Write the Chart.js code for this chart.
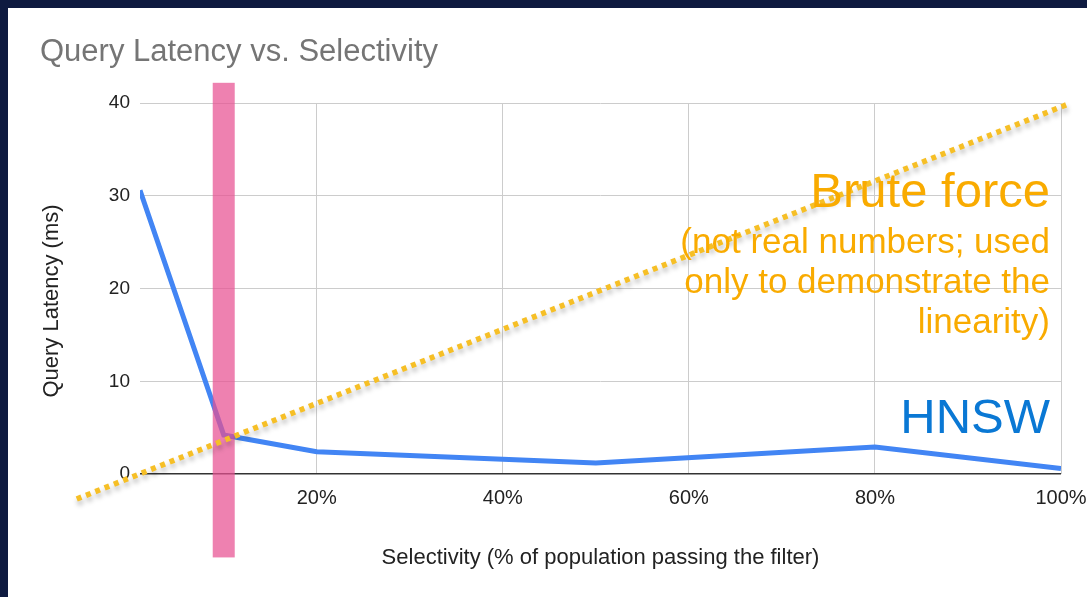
<!DOCTYPE html>
<html>
<head>
<meta charset="utf-8">
<script src="https://cdn.jsdelivr.net/npm/chart.js@4.4.1/dist/chart.umd.min.js"></script>
<style>
  html, body { margin: 0; padding: 0; background: #0e1a40; overflow: hidden; }
  #wrap { position: absolute; left: 8px; top: 8px; width: 1079px; height: 589px; background: #fff; }
</style>
</head>
<body>
<div id="wrap"><canvas id="latencyChart"></canvas></div>
<script>
// Data
const selectivity = [1, 10, 20, 50, 80, 100];          // % of population passing the filter
const hnswLatency = [30.6, 4.2, 2.4, 1.2, 2.9, 0.6];    // ms
const bruteX = [-5.8, 101];                              // dotted trend line ends
const bruteY = [-2.7, 40];
const xTickValues = [20, 40, 60, 80, 100];
const yTickValues = [0, 10, 20, 30, 40];
const highlightX = 10;                                   // pink marker
const highlightY = [-9, 42.2];

const FONT = '"Liberation Sans", Arial, sans-serif';

// pink marker drawn between the two lines, shadow under the dotted line
const overlayPlugin = {
    id: 'overlay',
    beforeDatasetDraw(chart, args) {
        if (args.index !== 0) return;
        const ctx = chart.ctx;
        const xs = chart.scales.x, ys = chart.scales.y;
        const px = xs.getPixelForValue(highlightX);
        const top = ys.getPixelForValue(highlightY[1]);
        const bot = ys.getPixelForValue(highlightY[0]);
        ctx.save();
        ctx.fillStyle = 'rgba(232, 80, 145, 0.72)';
        ctx.fillRect(px - 11, top, 22, bot - top);
        ctx.restore();
        ctx.save();
        ctx.shadowColor = 'rgba(0, 0, 0, 0.28)';
        ctx.shadowBlur = 5;
        ctx.shadowOffsetY = 4;
        ctx.shadowOffsetX = 1;
    },
    afterDatasetDraw(chart, args) {
        if (args.index !== 0) return;
        chart.ctx.restore();
    },
    afterDraw(chart) {
        const ctx = chart.ctx;
        const right = chart.chartArea.right - 11;
        ctx.save();
        // y axis title (sits a bit below the plot centre in the original)
        ctx.save();
        ctx.translate(44, 293);
        ctx.rotate(-Math.PI / 2);
        ctx.textAlign = 'center';
        ctx.textBaseline = 'middle';
        ctx.fillStyle = '#222';
        ctx.font = '22px ' + FONT;
        ctx.fillText('Query Latency (ms)', 0, 0);
        ctx.restore();

        ctx.textAlign = 'right';
        ctx.textBaseline = 'alphabetic';
        ctx.fillStyle = '#f9ab00';
        ctx.font = '49px ' + FONT;
        ctx.fillText('Brute force', right, 199);
        ctx.font = '35px ' + FONT;
        ctx.fillText('(not real numbers; used', right, 245);
        ctx.fillText('only to demonstrate the', right, 285);
        ctx.fillText('linearity)', right, 325);
        ctx.fillStyle = '#0a78d4';
        ctx.font = '49px ' + FONT;
        ctx.fillText('HNSW', right, 425);
        ctx.restore();
    }
};

const ctx = document.getElementById('latencyChart').getContext('2d');

const latencyChart = new Chart(ctx, {
    type: 'line',
    data: {
        datasets: [{
            label: 'Brute force',
            data: bruteX.map((x, i) => ({ x: x, y: bruteY[i] })),
            borderColor: '#f6bf26',
            borderWidth: 5.5,
            borderDash: [5, 5],
            borderCapStyle: 'butt',
            pointRadius: 0,
            clip: false
        }, {
            label: 'HNSW',
            data: selectivity.map((x, i) => ({ x: x, y: hnswLatency[i] })),
            borderColor: '#4285f4',
            borderWidth: 5,
            borderJoinStyle: 'miter',
            pointRadius: 0,
            tension: 0
        }]
    },
    options: {
        responsive: true,
        maintainAspectRatio: false,
        animation: false,
        layout: { padding: { left: 32, right: 26, top: 0, bottom: 26 } },
        plugins: {
            legend: { display: false },
            tooltip: { enabled: false },
            title: {
                display: true,
                text: 'Query Latency vs. Selectivity',
                align: 'start',
                color: '#757575',
                font: { family: FONT, size: 31, weight: 'normal' },
                padding: { top: 26, bottom: 32 }
            }
        },
        scales: {
            x: {
                type: 'linear',
                min: 1,
                max: 100,
                afterBuildTicks: s => { s.ticks = xTickValues.map(v => ({ value: v })); },
                afterFit: s => { s.height = 97; s.paddingLeft = 0; s.paddingRight = 0; },
                border: { display: false },
                grid: { color: '#cccccc', lineWidth: 1, drawTicks: false },
                ticks: {
                    color: '#222',
                    font: { family: FONT, size: 20 },
                    padding: 12,
                    maxRotation: 0,
                    callback: v => v + '%'
                },
                title: {
                    display: true,
                    text: 'Selectivity (% of population passing the filter)',
                    color: '#222',
                    font: { family: FONT, size: 22 },
                    padding: 0
                }
            },
            y: {
                min: 0,
                max: 40,
                afterBuildTicks: s => { s.ticks = yTickValues.map(v => ({ value: v })); },
                afterFit: s => { s.width = 100; },
                border: { display: false },
                grid: {
                    color: c => c.tick && c.tick.value === 0 ? '#333333' : '#cccccc',
                    lineWidth: c => c.tick && c.tick.value === 0 ? 1.5 : 1,
                    drawTicks: false
                },
                ticks: {
                    color: '#222',
                    font: { family: FONT, size: 19 },
                    padding: 10
                }
            }
        }
    },
    plugins: [overlayPlugin]
});
</script>
</body>
</html>
